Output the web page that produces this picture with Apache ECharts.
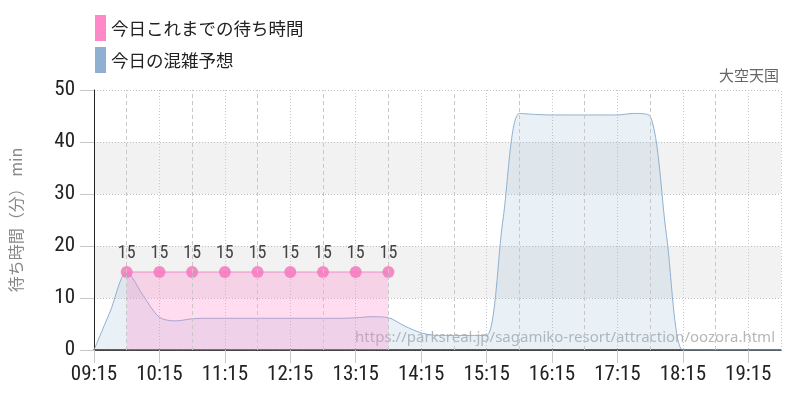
<!DOCTYPE html>
<html>
<head>
<meta charset="utf-8">
<script src="https://cdn.jsdelivr.net/npm/echarts@6/dist/echarts.min.js"></script>
<style>
html,body{margin:0;padding:0;background:#fff;}
#chart{width:800px;height:400px;}
</style>
</head>
<body>
<div id="chart"></div>
<script>
// ---- data ----
const xTickLabels = ['09:15','10:15','11:15','12:15','13:15','14:15','15:15','16:15','17:15','18:15','19:15'];
const halfHourLines = ['09:45','10:45','11:45','12:45','13:45','14:45','15:45','16:45','17:45','18:45'];
const axisStart = '09:15';
const axisEnd = '19:45';

const forecastTimes = ['09:15','09:30','09:45','10:00','10:15','10:30','10:45','11:00','11:15','11:30','11:45','12:00','12:15','12:30','12:45','13:00','13:15','13:30','13:45','14:00','14:15','14:30','14:45','15:00','15:15','15:30','15:45','16:00','16:15','16:30','16:45','17:00','17:15','17:30','17:45','18:00','18:15','18:30','18:45','19:00','19:15','19:30','19:45'];
const forecastValues = [0,7.5,15,10.5,6.3,5.6,6.0,6.1,6.1,6.1,6.1,6.1,6.1,6.1,6.1,6.1,6.2,6.4,6.2,4.6,3.3,2.8,2.8,2.8,2.8,25,45.5,45.3,45.2,45.2,45.2,45.2,45.2,45.5,45,22,0,0,0,0,0,0,0];

const waitTimes = ['09:45','10:15','10:45','11:15','11:45','12:15','12:45','13:15','13:45'];
const waitValues = [15,15,15,15,15,15,15,15,15];

const yTicks = [0,10,20,30,40,50];

// ---- helpers ----
function toMin(t){ const p = t.split(':').map(Number); return p[0]*60 + p[1]; }
const base = toMin(axisStart);
function toX(t){ return toMin(t) - base; }
function pad(n){ return (n < 10 ? '0' : '') + n; }
function fmt(v){ const t = Math.round(v) + base; return pad(Math.floor(t/60)) + ':' + pad(t % 60); }

const narrow = '"Roboto Condensed","DejaVu Sans Condensed",sans-serif';
const jp = '"Noto Sans CJK JP","Noto Sans",sans-serif';

const chart = echarts.init(document.getElementById('chart'));
const tickVals = xTickLabels.map(toX);

chart.setOption({
  animation: false,
  backgroundColor: '#fff',
  grid: { left: 90, right: 19, top: 90, bottom: 50, containLabel: false },
  legend: {
    left: 90, top: 10, orient: 'vertical',
    icon: 'rect', itemWidth: 11, itemHeight: 26, itemGap: 6,
    textStyle: { fontSize: 17.5, color: '#222', fontFamily: jp },
    data: [
      { name: '今日これまでの待ち時間', itemStyle: { color: '#ff88c8', opacity: 1 } },
      { name: '今日の混雑予想', itemStyle: { color: '#8fb0d0', opacity: 1 } }
    ]
  },
  xAxis: {
    type: 'value',
    min: 0, max: toX(axisEnd), interval: 60,
    axisLine: { show: true, onZero: false, lineStyle: { color: '#111', width: 1.5 } },
    axisTick: { show: true, length: 13, customValues: tickVals, lineStyle: { color: '#c8c8c8' } },
    axisLabel: {
      customValues: tickVals, formatter: fmt, margin: 14,
      fontSize: 21, color: '#222', fontFamily: narrow
    },
    splitLine: { show: true, lineStyle: { color: '#c8c8c8', type: [1, 2], width: 1 } }
  },
  yAxis: {
    type: 'value', min: yTicks[0], max: yTicks[yTicks.length-1], interval: 10,
    name: '待ち時間（分） min', nameLocation: 'middle', nameRotate: 90, nameGap: 70,
    nameTextStyle: { fontSize: 16, color: '#888', fontFamily: jp },
    axisLine: { show: true, lineStyle: { color: '#222', width: 1 } },
    axisTick: { show: true, length: 14, lineStyle: { color: '#c8c8c8' } },
    axisLabel: { margin: 19, fontSize: 21, color: '#222', fontFamily: narrow },
    splitLine: { show: true, lineStyle: { color: '#c0c0c0', type: [1, 2] } },
    splitArea: { show: true, areaStyle: { color: ['rgba(255,255,255,0)', '#f2f2f2'] } }
  },
  series: [
    {
      name: '今日の混雑予想',
      type: 'line',
      smooth: 0.3,
      showSymbol: false,
      symbol: 'none',
      z: 2,
      data: forecastTimes.map((t, i) => [toX(t), forecastValues[i]]),
      itemStyle: { color: '#8fb0d0' },
      lineStyle: { color: '#8fb0d0', width: 1 },
      areaStyle: { color: 'rgba(143,176,208,0.28)', origin: 'start' },
      markLine: {
        silent: true, symbol: 'none', label: { show: false },
        animation: false,
        data: halfHourLines.map(t => ({ xAxis: toX(t), lineStyle: { color: '#c8c8c8', type: [4, 3], width: 1 } }))
          .concat([{ xAxis: toX(axisEnd), lineStyle: { color: '#c8c8c8', type: [1, 2], width: 1 } }])
      }
    },
    {
      name: '今日これまでの待ち時間',
      type: 'line',
      z: 3,
      symbol: 'circle',
      symbolSize: 12,
      data: waitTimes.map((t, i) => [toX(t), waitValues[i]]),
      itemStyle: { color: 'rgba(245,120,190,0.85)' },
      lineStyle: { color: 'rgba(240,120,190,0.8)', width: 1 },
      areaStyle: { color: 'rgba(255,130,200,0.4)', origin: 'start' },
      label: { show: true, position: 'top', distance: 4, fontSize: 18, color: '#444', fontFamily: narrow }
    }
  ],
  graphic: [
    {
      type: 'text', right: 21, top: 68,
      style: { text: '大空天国', fontSize: 15, fill: '#666', fontFamily: jp }
    },
    {
      type: 'text', right: 25, top: 330, silent: true,
      style: { text: 'https://parksreal.jp/sagamiko-resort/attraction/oozora.html', fontSize: 15, fill: 'rgba(110,110,110,0.5)', fontFamily: '"Noto Sans",sans-serif' }
    }
  ]
});
</script>
</body>
</html>
